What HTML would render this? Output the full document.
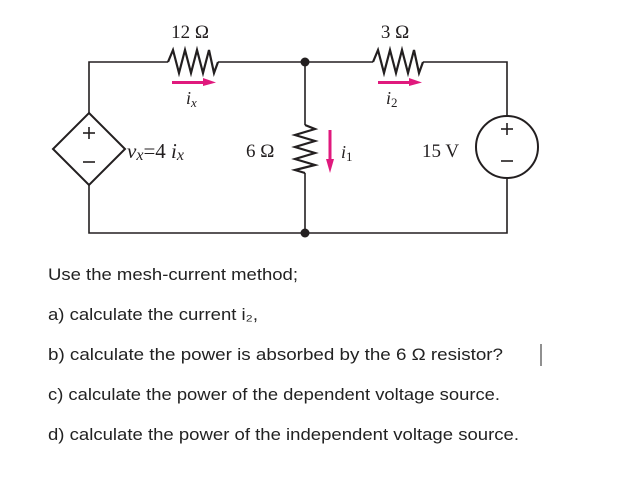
<!DOCTYPE html>
<html><head><meta charset="utf-8"><style>
html,body{margin:0;padding:0;background:#fff;width:621px;height:493px;overflow:hidden}
svg{display:block}
.s{font-family:"Liberation Serif",serif;fill:#231f20}
.t{font-family:"Liberation Sans",sans-serif;font-size:16.5px;fill:#222}
</style></head><body>
<svg width="621" height="493" viewBox="0 0 621 493" xmlns="http://www.w3.org/2000/svg">
<g stroke="#231f20" stroke-width="1.6" fill="none">
<polyline points="89,113 89,62 168,62"/>
<polyline points="218,62 373,62"/>
<polyline points="423,62 507,62 507,116"/>
<polyline points="507,178 507,233 89,233 89,185"/>
<line x1="305" y1="62" x2="305" y2="125"/>
<line x1="305" y1="173" x2="305" y2="233"/>
<polyline stroke-width="2.2" points="168,62 173,50 179,73 185,50 191,73 197,50 203,73 209,50 214,73 218,62"/>
<polyline stroke-width="2.2" points="373,62 378,50 384,73 390,50 396,73 402,50 408,73 414,50 419,73 423,62"/>
<polyline stroke-width="2.2" points="305,125 315,129 295,135 315,141 295,147 315,153 295,159 315,165 295,170 305,173"/>
<polygon stroke-width="2" points="89,113 125,149 89,185 53,149"/>
<line x1="83" y1="133" x2="95" y2="133"/><line x1="89" y1="127" x2="89" y2="139"/>
<line x1="83" y1="162" x2="95" y2="162"/>
<circle cx="507" cy="147" r="31" stroke-width="2"/>
<line x1="501" y1="129" x2="513" y2="129"/><line x1="507" y1="123" x2="507" y2="135"/>
<line x1="501" y1="161" x2="513" y2="161"/>
</g>
<circle cx="305" cy="62" r="4.5" fill="#231f20"/>
<circle cx="305" cy="233" r="4.5" fill="#231f20"/>
<g fill="#e0197d">
<rect x="172" y="81" width="32" height="3"/><polygon points="203,78 216,82.5 203,86"/>
<rect x="378" y="81" width="32" height="3"/><polygon points="409,78 422,82.5 409,86"/>
<rect x="328.5" y="130" width="3" height="30"/><polygon points="326,159 330,173 334,159"/>
</g>
<text class="s" x="190" y="38" font-size="19" text-anchor="middle">12 Ω</text>
<text class="s" x="395" y="38" font-size="19" text-anchor="middle">3 Ω</text>
<text class="s" x="186" y="104" font-size="18" font-style="italic">i<tspan font-size="13" dy="3">x</tspan></text>
<text class="s" x="386" y="104" font-size="18" font-style="italic">i<tspan font-size="13" font-style="normal" dy="3">2</tspan></text>
<text class="s" x="341" y="158" font-size="18" font-style="italic">i<tspan font-size="13" font-style="normal" dy="3">1</tspan></text>
<text class="s" x="127" y="158" font-size="21" font-style="italic">v<tspan font-size="16" dy="2">x</tspan><tspan font-style="normal" dy="-2">=4</tspan> i<tspan font-size="16" dy="2">x</tspan></text>
<text class="s" x="246" y="157" font-size="19">6 Ω</text>
<text class="s" x="422" y="157" font-size="19">15 V</text>
<text class="t" x="48" y="280" textLength="250" lengthAdjust="spacingAndGlyphs">Use the mesh-current method;</text>
<text class="t" x="48" y="320" textLength="210" lengthAdjust="spacingAndGlyphs">a) calculate the current i₂,</text>
<text class="t" x="48" y="360" textLength="455" lengthAdjust="spacingAndGlyphs">b) calculate the power is absorbed by the 6 Ω resistor?</text>
<text class="t" x="48" y="400" textLength="452" lengthAdjust="spacingAndGlyphs">c) calculate the power of the dependent voltage source.</text>
<text class="t" x="48" y="440" textLength="471" lengthAdjust="spacingAndGlyphs">d) calculate the power of the independent voltage source.</text>
<line x1="541" y1="344" x2="541" y2="366" stroke="#222" stroke-width="1"/>
</svg>
</body></html>
